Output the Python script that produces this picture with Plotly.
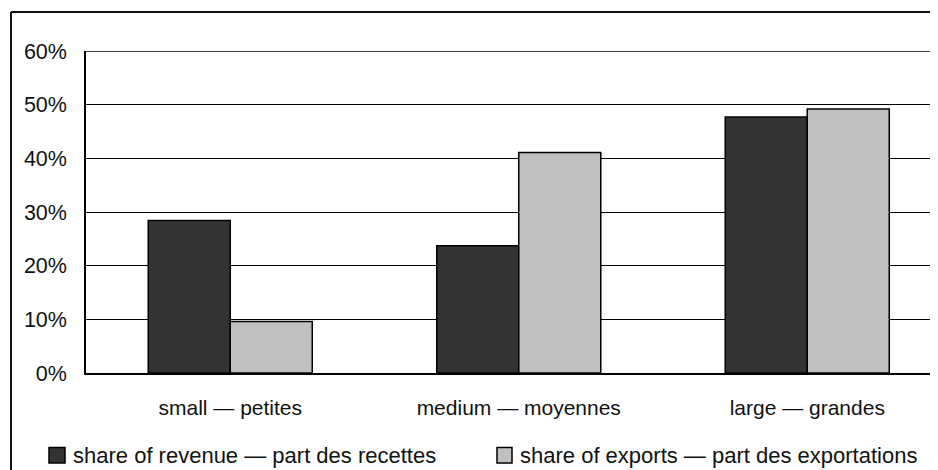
import plotly.graph_objects as go

categories = ["small — petites", "medium — moyennes", "large — grandes"]
series_names = ["share of revenue — part des recettes", "share of exports — part des exportations"]
revenue = [0.284, 0.237, 0.477]
exports = [0.096, 0.411, 0.492]
y_ticks = [0, 0.1, 0.2, 0.3, 0.4, 0.5, 0.6]
y_tick_labels = ["0%", "10%", "20%", "30%", "40%", "50%", "60%"]
colors = ["#333333", "#c0c0c0"]

# the page body has an 8px margin: the figure is laid out in page pixels minus this offset
OFF = 8
W, H = 938 - OFF, 470 - OFF
ML, MT = 86 - OFF, 51 - OFF
MB = H - (373 - OFF)
MR = 0
PW = W - ML - MR
PH = H - MT - MB

def px_x(px):
    return (px - OFF - ML) / PW

def px_y(py):
    return (H - MB - (py - OFF)) / PH

FONT = "Liberation Sans, Arial, sans-serif"

fig = go.Figure()
for name, vals, col in zip(series_names, [revenue, exports], colors):
    fig.add_trace(go.Bar(
        x=categories, y=vals, name=name,
        marker=dict(color=col, line=dict(color="#000000", width=1.5)),
        showlegend=False,
    ))

band = 288.5
span = PW / band

fig.update_layout(
    width=W, height=H,
    margin=dict(l=ML, r=MR, t=MT, b=MB, pad=0),
    paper_bgcolor="white", plot_bgcolor="white",
    barmode="group", bargap=0.4315, bargroupgap=0,
    font=dict(family=FONT, size=21, color="#111111"),
    xaxis=dict(
        type="category", range=[-0.5, -0.5 + span],
        showgrid=False, showline=True, linecolor="#000000", linewidth=2,
        ticks="", ticklabelstandoff=15, tickfont=dict(size=21),
        zeroline=False, fixedrange=True,
    ),
    yaxis=dict(
        range=[0, 0.6], tickvals=y_ticks, ticktext=y_tick_labels,
        showgrid=True, gridcolor="#000000", gridwidth=1,
        showline=True, linecolor="#000000", linewidth=1.5,
        ticks="", ticklabelstandoff=13, tickfont=dict(size=21.5),
        zeroline=False, fixedrange=True,
    ),
)

shapes = []
# top border of the plot area (60% line)
shapes.append(dict(type="line", xref="paper", yref="y", x0=0, x1=1,
                   y0=y_ticks[-1], y1=y_ticks[-1], line=dict(color="#000000", width=1.5),
                   layer="above"))
# outer frame (cropped at right and bottom)
fx = px_x(11)
fy = px_y(12)
shapes.append(dict(type="line", xref="paper", yref="paper", x0=fx, x1=fx, y0=-0.5, y1=fy,
                   line=dict(color="#111111", width=2)))
shapes.append(dict(type="line", xref="paper", yref="paper", x0=fx, x1=1.2, y0=fy, y1=fy,
                   line=dict(color="#111111", width=2)))

# manual legend
legend_items = [(49, 65, 71), (497, 512, 518)]
annotations = []
for (sx0, sx1, tx), name, col in zip(legend_items, series_names, colors):
    shapes.append(dict(type="rect", xref="paper", yref="paper",
                       x0=px_x(sx0), x1=px_x(sx1), y0=px_y(463), y1=px_y(447.5),
                       fillcolor=col, line=dict(color="#000000", width=1.5)))
    annotations.append(dict(xref="paper", yref="paper", x=px_x(tx), y=px_y(455),
                            xanchor="left", yanchor="middle", showarrow=False,
                            text=name, font=dict(size=22, family=FONT, color="#111111")))

fig.update_layout(shapes=shapes, annotations=annotations)
fig.write_html("out.html")
